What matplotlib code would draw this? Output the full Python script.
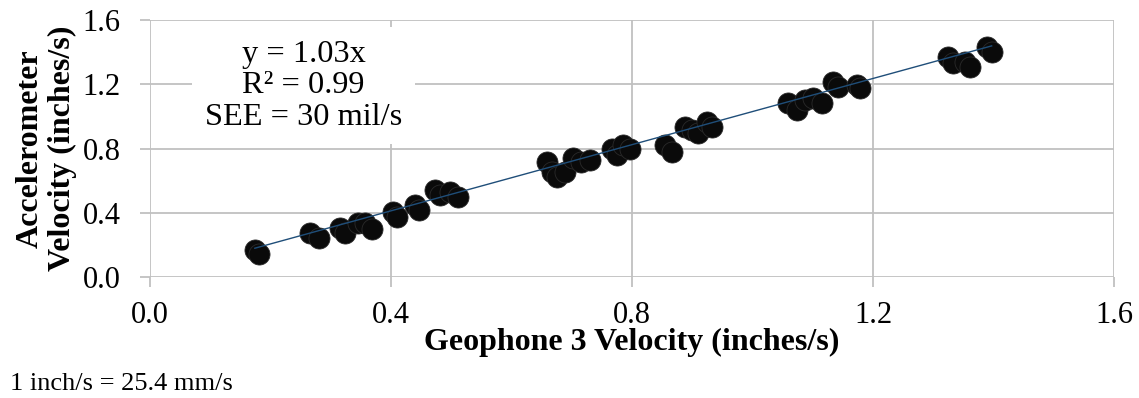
import matplotlib
matplotlib.use("Agg")
import matplotlib.pyplot as plt
import numpy as np

# Paired peak particle velocities (inches/s)
geophone_v = [0.174, 0.181, 0.266, 0.281, 0.315, 0.324, 0.345, 0.357, 0.368,
              0.403, 0.410, 0.440, 0.446, 0.473, 0.481, 0.498, 0.511,
              0.659, 0.667, 0.675, 0.689, 0.702, 0.716, 0.730,
              0.767, 0.775, 0.785, 0.797, 0.855, 0.866,
              0.888, 0.899, 0.910, 0.924, 0.933,
              1.059, 1.074, 1.087, 1.100, 1.115, 1.134, 1.142, 1.173, 1.178,
              1.324, 1.333, 1.353, 1.361, 1.389, 1.397]
accel_v = [0.168, 0.143, 0.274, 0.243, 0.305, 0.274, 0.336, 0.336, 0.299,
           0.405, 0.374, 0.449, 0.417, 0.542, 0.511, 0.530, 0.498,
           0.717, 0.654, 0.623, 0.654, 0.741, 0.717, 0.729,
           0.800, 0.760, 0.822, 0.800, 0.822, 0.779,
           0.935, 0.916, 0.897, 0.966, 0.935,
           1.084, 1.040, 1.103, 1.115, 1.084, 1.215, 1.184, 1.196, 1.178,
           1.371, 1.333, 1.340, 1.308, 1.433, 1.402]
slope = 1.03
ticks = [0.0, 0.4, 0.8, 1.2, 1.6]
tick_labels = ["0.0", "0.4", "0.8", "1.2", "1.6"]

plt.rcParams["font.family"] = ["Liberation Serif", "DejaVu Serif"]

fig = plt.figure(figsize=(11.39, 3.98), dpi=100)
ax = fig.add_axes([0.1317, 0.304, 0.978 - 0.1317, 0.9497 - 0.304])

ax.set_xlim(0, 1.6)
ax.set_ylim(0, 1.6)
ax.set_xticks(ticks)
ax.set_xticklabels(tick_labels)
ax.set_yticks(ticks)
ax.set_yticklabels(tick_labels)

grid_c = "#c0c0c0"
ax.grid(True, color=grid_c, linewidth=1.3, zorder=0)
for s in ax.spines.values():
    s.set_visible(False)
ax.tick_params(axis="both", which="both", length=7, width=1.3, color=grid_c,
               labelsize=22)
ax.tick_params(axis="x", pad=10)
ax.tick_params(axis="y", pad=14)
ax.set_axisbelow(True)

ax.scatter(geophone_v, accel_v, s=230, c="#0a0a0a", edgecolors="#2a2a2a",
           linewidths=0.6, zorder=3)

xs = np.array([min(geophone_v), max(geophone_v)])
ax.plot(xs, slope * xs, color="#1f4e79", linewidth=1.0, zorder=4)

ax.set_xlabel("Geophone 3 Velocity (inches/s)", fontsize=23, fontweight="bold",
              labelpad=-1)
ax.set_ylabel("Accelerometer\nVelocity (inches/s)", fontsize=23,
              fontweight="bold", linespacing=1.15)
ax.yaxis.set_label_coords(-0.076, 0.5)

ax.text(0.255, 1.19, "y = 1.03x\nR² = 0.99\nSEE = 30 mil/s", fontsize=23.3,
        ha="center", va="center", linespacing=1.11, zorder=5,
        bbox=dict(facecolor="white", edgecolor="none", pad=9))

fig.text(10 / 1139, 1 - 390 / 398, "1 inch/s = 25.4 mm/s", fontsize=19,
         ha="left", va="baseline")

fig.savefig("out.png", dpi=100, facecolor="white")
